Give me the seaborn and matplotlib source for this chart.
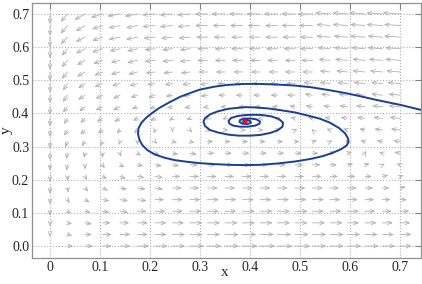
import matplotlib
matplotlib.use('Agg')
import matplotlib.pyplot as plt
import seaborn as sns
import pandas as pd

# arrow grid (same for x and y)
grid = [0, 0.035, 0.07, 0.105, 0.14, 0.175, 0.21, 0.245, 0.28, 0.315, 0.35,
        0.385, 0.42, 0.455, 0.49, 0.525, 0.56, 0.595, 0.63, 0.665, 0.7]

# arrow components, in pixels (row = y, column = x)
arrow_u = [
    [0, 5, 7, 8, 9, 10, 11, 11, 12, 12, 12, 13, 13, 13, 13, 12, 12, 12, 12, 11, 10],
    [0, 4, 6, 8, 9, 9, 10, 11, 11, 11, 12, 12, 12, 12, 12, 12, 12, 11, 11, 10, 10],
    [0, 4, 6, 7, 8, 9, 10, 10, 11, 11, 11, 11, 11, 11, 11, 11, 11, 10, 10, 9, 9],
    [0, 3, 5, 6, 7, 8, 9, 9, 10, 10, 10, 11, 11, 11, 11, 10, 10, 10, 9, 8, 8],
    [0, 2, 4, 6, 7, 8, 8, 9, 9, 10, 10, 10, 10, 10, 10, 10, 9, 9, 8, 7, 6],
    [0, 1, 3, 5, 6, 7, 7, 8, 8, 9, 9, 9, 9, 9, 9, 9, 8, 8, 7, 6, 5],
    [0, 0, 2, 4, 5, 6, 7, 7, 8, 8, 8, 8, 8, 8, 8, 8, 7, 7, 6, 5, 3],
    [0, -1, 0, 2, 4, 5, 6, 6, 7, 7, 7, 7, 7, 7, 7, 7, 6, 5, 4, 2, -3],
    [0, -1, -1, 0, 1, 3, 4, 5, 6, 6, 6, 6, 6, 6, 6, 5, 5, 4, 1, -3, -5],
    [0, -2, -3, -2, -1, 0, 2, 4, 4, 5, 5, 5, 5, 5, 4, 4, 2, -2, -4, -5, -6],
    [0, -3, -4, -4, -3, -3, -1, 0, 2, 3, 3, 3, 3, 3, 2, -1, -3, -4, -5, -7, -8],
    [0, -3, -4, -5, -5, -4, -4, -3, -3, -2, -2, -2, -2, -3, -4, -4, -5, -6, -7, -8, -9],
    [0, -4, -5, -6, -6, -5, -5, -5, -5, -4, -4, -4, -5, -5, -5, -6, -6, -7, -8, -9, -10],
    [0, -4, -6, -6, -6, -6, -6, -6, -6, -6, -6, -6, -6, -6, -7, -7, -8, -8, -9, -10, -10],
    [0, -4, -6, -7, -7, -7, -7, -7, -7, -7, -7, -7, -7, -7, -8, -8, -9, -9, -10, -10, -11],
    [0, -5, -7, -7, -8, -8, -8, -8, -8, -8, -8, -8, -8, -8, -9, -9, -9, -10, -11, -11, -12],
    [0, -5, -7, -8, -8, -9, -9, -9, -9, -9, -9, -9, -9, -9, -9, -10, -10, -11, -11, -12, -13],
    [0, -5, -8, -9, -9, -9, -9, -9, -9, -9, -9, -10, -10, -10, -10, -11, -11, -12, -12, -13, -13],
    [0, -6, -8, -9, -10, -10, -10, -10, -10, -10, -10, -10, -10, -11, -11, -11, -12, -12, -13, -13, -14],
    [0, -6, -8, -9, -10, -10, -11, -11, -11, -11, -11, -11, -11, -11, -12, -12, -12, -13, -13, -14, -14],
    [0, -6, -9, -10, -11, -11, -11, -11, -11, -11, -12, -12, -12, -12, -12, -13, -13, -13, -14, -14, -15],
]
arrow_v = [
    [0, 0, 0, 0, 0, 0, 0, 0, 0, 0, 0, 0, 0, 0, 0, 0, 0, 0, 0, 0, 0],
    [-2, -1, 0, 0, 0, 0, 0, 0, 0, 0, 0, 0, 0, 0, 0, 0, 0, 0, 0, 0, 0],
    [-3, -1, -1, 0, 0, 0, 0, 0, 0, 0, 0, 0, 0, 0, 0, 0, 0, 0, 0, 0, 0],
    [-4, -2, -1, -1, -1, 0, 0, 0, 0, 0, 0, 0, 0, 0, 0, 0, 0, 0, 0, 0, 0],
    [-4, -3, -2, -1, -1, -1, 0, 0, 0, 0, 0, 0, 0, 0, 0, 0, 0, 0, 0, 0, 0],
    [-5, -4, -3, -2, -1, -1, -1, 0, 0, 0, 0, 0, 0, 0, 0, 0, 0, 0, 0, 0, 1],
    [-5, -4, -3, -2, -2, -1, -1, 0, 0, 0, 0, 0, 0, 0, 0, 0, 0, 0, 0, 1, 1],
    [-5, -5, -4, -3, -2, -1, -1, -1, 0, 0, 0, 0, 0, 0, 0, 0, 0, 1, 1, 1, 1],
    [-6, -5, -4, -4, -3, -2, -1, -1, -1, 0, 0, 0, 0, 0, 0, 0, 1, 1, 2, 1, 1],
    [-6, -5, -4, -4, -3, -3, -2, -1, -1, 0, 0, 0, 0, 0, 0, 1, 1, 2, 1, 1, 1],
    [-6, -5, -4, -3, -3, -3, -3, -2, -2, -1, 0, 0, 0, 1, 1, 1, 1, 1, 1, 1, 1],
    [-7, -5, -4, -3, -3, -2, -2, -2, -1, -1, -1, 0, 0, 1, 1, 1, 1, 1, 1, 1, 1],
    [-7, -5, -4, -3, -3, -2, -2, -1, -1, -1, 0, 0, 0, 0, 1, 1, 1, 1, 1, 1, 1],
    [-7, -6, -4, -3, -3, -2, -2, -1, -1, -1, 0, 0, 0, 0, 0, 1, 1, 1, 1, 1, 1],
    [-8, -6, -4, -3, -2, -2, -1, -1, -1, -1, 0, 0, 0, 0, 0, 1, 1, 1, 1, 1, 1],
    [-8, -6, -4, -3, -2, -2, -1, -1, -1, 0, 0, 0, 0, 0, 0, 0, 1, 1, 1, 1, 1],
    [-8, -6, -4, -3, -2, -2, -1, -1, -1, 0, 0, 0, 0, 0, 0, 0, 1, 1, 1, 1, 1],
    [-8, -6, -4, -3, -2, -2, -1, -1, -1, 0, 0, 0, 0, 0, 0, 0, 1, 1, 1, 1, 1],
    [-9, -6, -4, -3, -2, -2, -1, -1, -1, 0, 0, 0, 0, 0, 0, 0, 1, 1, 1, 1, 1],
    [-9, -7, -5, -3, -2, -2, -1, -1, -1, 0, 0, 0, 0, 0, 0, 0, 1, 1, 1, 1, 1],
    [-9, -7, -5, -3, -2, -2, -1, -1, -1, 0, 0, 0, 0, 0, 0, 0, 1, 1, 1, 1, 1],
]

# spiral trajectory
traj_x = [0.741, 0.70, 0.655, 0.62, 0.589, 0.555, 0.522, 0.49, 0.455, 0.42, 0.389, 0.355, 0.33, 0.30, 0.283,
          0.26, 0.237, 0.218, 0.203, 0.191, 0.183, 0.177, 0.176, 0.179, 0.185, 0.195, 0.21, 0.23, 0.25, 0.275,
          0.30, 0.33, 0.36, 0.389, 0.42, 0.455, 0.49, 0.522, 0.545, 0.565, 0.582, 0.593, 0.597, 0.596, 0.59,
          0.578, 0.56, 0.54, 0.517, 0.49, 0.46, 0.437, 0.41, 0.39, 0.357, 0.335, 0.32, 0.31, 0.307, 0.31,
          0.32, 0.337, 0.357, 0.377, 0.40, 0.42, 0.44, 0.455, 0.465, 0.466, 0.458, 0.443, 0.425, 0.41, 0.39,
          0.375, 0.362, 0.357, 0.359, 0.367, 0.38, 0.395, 0.41, 0.419, 0.42, 0.413, 0.40, 0.388, 0.38, 0.379,
          0.385, 0.395, 0.402, 0.40, 0.392, 0.386, 0.388, 0.393, 0.392, 0.39]
traj_y = [0.411, 0.426, 0.44, 0.452, 0.462, 0.471, 0.479, 0.484, 0.487, 0.489, 0.489, 0.486, 0.481, 0.472, 0.463,
          0.45, 0.432, 0.416, 0.40, 0.385, 0.372, 0.355, 0.338, 0.32, 0.304, 0.289, 0.276, 0.266, 0.259, 0.254,
          0.25, 0.247, 0.245, 0.244, 0.245, 0.249, 0.255, 0.263, 0.271, 0.281, 0.292, 0.303, 0.313, 0.325, 0.34,
          0.356, 0.372, 0.384, 0.393, 0.403, 0.41, 0.415, 0.418, 0.419, 0.414, 0.406, 0.397, 0.386, 0.375, 0.362,
          0.35, 0.342, 0.336, 0.333, 0.333, 0.335, 0.341, 0.349, 0.36, 0.372, 0.383, 0.391, 0.395, 0.396, 0.395,
          0.392, 0.386, 0.377, 0.369, 0.363, 0.36, 0.36, 0.363, 0.369, 0.376, 0.382, 0.385, 0.384, 0.38, 0.374,
          0.369, 0.368, 0.372, 0.378, 0.379, 0.376, 0.372, 0.373, 0.376, 0.375]
eq_x = [0.39]
eq_y = [0.375]
ticks = [0, 0.1, 0.2, 0.3, 0.4, 0.5, 0.6, 0.7]
xticklabels = ['0', '0.1', '0.2', '0.3', '0.4', '0.5', '0.6', '0.7']
yticklabels = ['0.0', '0.1', '0.2', '0.3', '0.4', '0.5', '0.6', '0.7']

sns.set_style('white')
plt.rcParams['font.family'] = ['Liberation Serif', 'DejaVu Serif']
fig = plt.figure(figsize=(4.22, 2.84), dpi=100)
ax = fig.add_axes([32 / 422, 26 / 284, 388.5 / 422, 255 / 284])
ax.set_xlim(-0.036, 0.741)
ax.set_ylim(-0.036, 0.733)

# data units per pixel, so the arrows keep their drawn length
bbox = ax.get_window_extent()
sx = (ax.get_xlim()[1] - ax.get_xlim()[0]) / bbox.width * 1.15
sy = (ax.get_ylim()[1] - ax.get_ylim()[0]) / bbox.height * 1.15

for i, yv in enumerate(grid):
    for j, xv in enumerate(grid):
        u, v = arrow_u[i][j], arrow_v[i][j]
        if u == 0 and v == 0:
            continue
        ax.annotate('', xy=(xv + u * sx, yv + v * sy), xytext=(xv, yv),
                    arrowprops=dict(arrowstyle='->,head_length=0.3,head_width=0.13', color='#b0b0b0',
                                    lw=0.6, shrinkA=0, shrinkB=0))

traj = pd.DataFrame({'x': traj_x, 'y': traj_y})
sns.lineplot(data=traj, x='x', y='y', sort=False, estimator=None, color='#1c3c9c', lw=1.4, ax=ax, zorder=3)
sns.scatterplot(x=eq_x, y=eq_y, color='red', marker='s', s=8, edgecolor='none', ax=ax, zorder=4)

ax.set_xticks(ticks)
ax.set_xticklabels(xticklabels)
ax.set_yticks(ticks)
ax.set_yticklabels(yticklabels)
ax.grid(True, ls=':', color='#b0b0b0', lw=0.8)
ax.tick_params(direction='in', length=4, color='#808080', labelsize=10, top=True, right=True, pad=2)
for s in ax.spines.values():
    s.set_color('#909090')
    s.set_linewidth(0.9)
ax.set_xlabel('x', fontsize=11)
ax.set_ylabel('y', fontsize=11)
ax.xaxis.set_label_coords(0.497, -0.03)
ax.yaxis.set_label_coords(-0.05, 0.5)
fig.savefig('out.png', dpi=100)
